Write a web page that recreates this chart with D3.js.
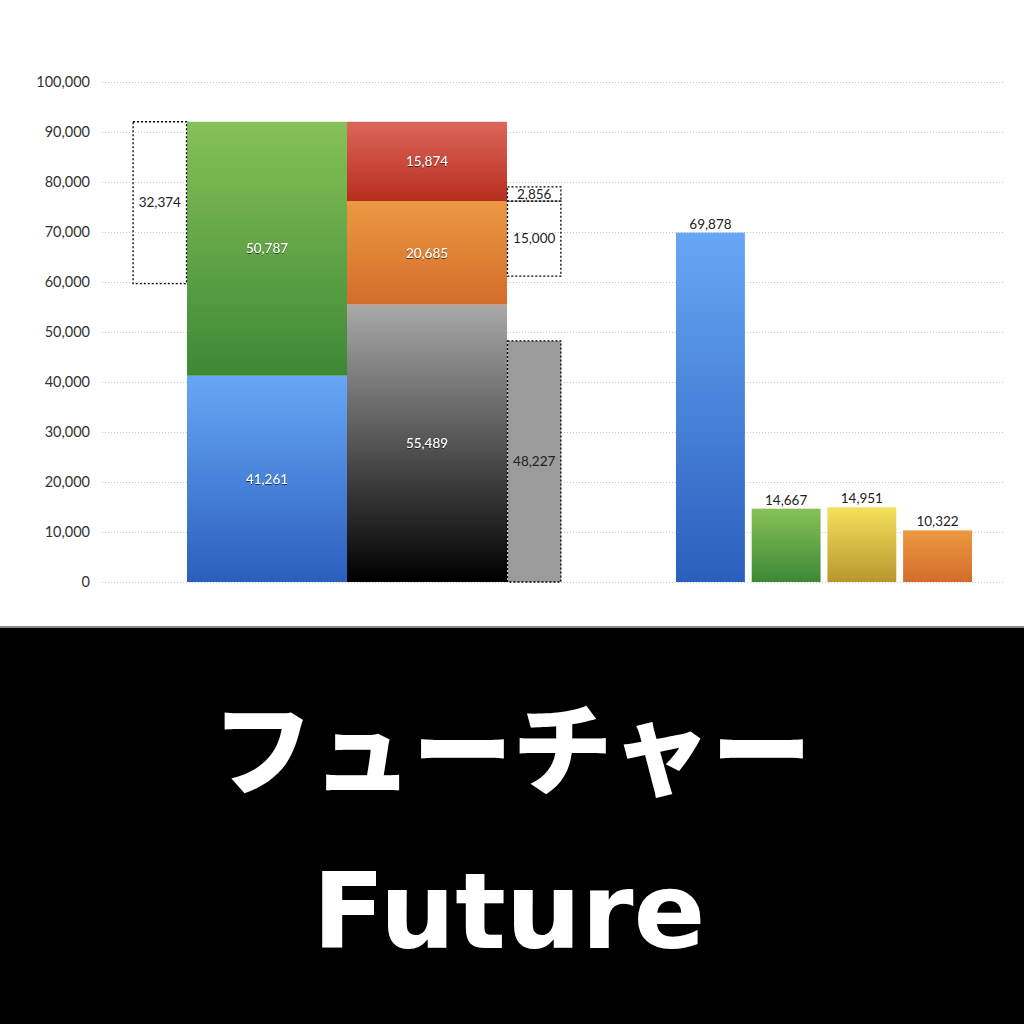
<!DOCTYPE html>
<html>
<head>
<meta charset="utf-8">
<script src="https://cdn.jsdelivr.net/npm/d3@7"></script>
<style>
  html, body { margin: 0; padding: 0; background: #fff; }
  svg { display: block; }
</style>
</head>
<body>
<script>
(function(){

  // left waterfall: two stacked columns with dotted helper boxes
  const stackA = ['blue', 'green']
  const stackAValues = [41261, 50787]
  const stackB = ['black', 'orange', 'red']
  const stackBValues = [55489, 20685, 15874]
  const leftGap = 32374
  const rightSmall = 2856
  const rightGap = 15000
  const greyBar = 48227

  // right group
  const rightCats = ['blue', 'green', 'yellow', 'orange']
  const rightValues = [69878, 14667, 14951, 10322]

  const yTicks = [0, 10000, 20000, 30000, 40000, 50000, 60000, 70000, 80000, 90000, 100000]

  const titleJa = 'フューチャー'
  const titleEn = 'Future'

  const grads = {
    blue:   ['#67a7f6', '#2b5fbd'],
    green:  ['#87c157', '#3d8836'],
    red:    ['#dd665b', '#b72e1d'],
    orange: ['#ec9941', '#d46c2b'],
    black:  ['#a9a9a9', '#000000'],
    yellow: ['#f6e15c', '#b8962e']
  }

  const W = 1024, H = 1024
  const svg = d3.select('body').append('svg').attr('width', W).attr('height', H)
  const defs = svg.append('defs')

  Object.keys(grads).forEach(function(k) {
    let g = defs.append('linearGradient').attr('id', 'g-' + k)
      .attr('x1', 0).attr('y1', 0).attr('x2', 0).attr('y2', 1)
    g.append('stop').attr('offset', '0%').attr('stop-color', grads[k][0])
    g.append('stop').attr('offset', '100%').attr('stop-color', grads[k][1])
  })

  const shadow = defs.append('filter').attr('id', 'txt-shadow')
    .attr('x', '-20%').attr('y', '-20%').attr('width', '140%').attr('height', '140%')
  shadow.append('feDropShadow').attr('dx', 0).attr('dy', 1).attr('stdDeviation', 0.6)
    .attr('flood-color', '#000').attr('flood-opacity', 0.6)

  const y = d3.scaleLinear().domain([0, 100000]).range([582, 82])
  const labelFont = 'Lato, "Noto Sans", sans-serif'

  // grid + ticks
  const grid = svg.append('g')
  grid.selectAll('line').data(yTicks).enter().append('line')
    .attr('x1', 102).attr('x2', 1005)
    .attr('y1', d => y(d) + 0.5).attr('y2', d => y(d) + 0.5)
    .attr('stroke', '#c8c8c8').attr('stroke-width', 1)
    .attr('stroke-dasharray', '1,2')

  const fmt = d3.format(',')
  svg.append('g').selectAll('text').data(yTicks).enter().append('text')
    .attr('x', 90).attr('y', d => y(d)).attr('dy', '0.35em')
    .attr('text-anchor', 'end')
    .attr('font-family', labelFont).attr('font-size', '14.5px')
    .attr('fill', '#333')
    .text(d => fmt(d))

  // left group x positions in column units
  const xL = d3.scaleLinear().domain([0, 1]).range([187, 347])
  const boxW = 0.34

  function stackRects(names, values) {
    let acc = 0
    return names.map(function(n, i) {
      let r = { name: n, value: values[i], y0: acc, y1: acc + values[i] }
      acc += values[i]
      return r
    })
  }
  const sA = stackRects(stackA, stackAValues)
  const sB = stackRects(stackB, stackBValues)
  const totalA = d3.sum(stackAValues)
  const topB = stackBValues[0] + stackBValues[1]

  function drawStack(data, col) {
    const g = svg.append('g')
    g.selectAll('rect').data(data).enter().append('rect')
      .attr('x', xL(col)).attr('width', xL(col + 1) - xL(col))
      .attr('y', d => y(d.y1)).attr('height', d => y(d.y0) - y(d.y1))
      .attr('fill', d => 'url(#g-' + d.name + ')')
    g.selectAll('text').data(data).enter().append('text')
      .attr('x', (xL(col) + xL(col + 1)) / 2)
      .attr('y', d => (y(d.y0) + y(d.y1)) / 2).attr('dy', '0.35em')
      .attr('text-anchor', 'middle')
      .attr('font-family', labelFont).attr('font-size', '13.5px')
      .attr('fill', '#fff').attr('filter', 'url(#txt-shadow)')
      .text(d => fmt(d.value))
  }
  drawStack(sA, 0)
  drawStack(sB, 1)

  // dotted boxes
  const boxes = [
    { x0: -boxW, x1: 0, lo: totalA - leftGap, hi: totalA, v: leftGap, fill: 'none' },
    { x0: 2, x1: 2 + boxW, lo: topB - rightGap, hi: topB, v: rightGap, fill: 'none' },
    { x0: 2, x1: 2 + boxW, lo: topB, hi: topB + rightSmall, v: rightSmall, fill: 'none' },
    { x0: 2, x1: 2 + boxW, lo: 0, hi: greyBar, v: greyBar, fill: '#9b9b9b' }
  ]
  const bg = svg.append('g')
  bg.selectAll('rect').data(boxes).enter().append('rect')
    .attr('x', d => xL(d.x0) + 0.5).attr('width', d => xL(d.x1) - xL(d.x0) - 1)
    .attr('y', d => y(d.hi)).attr('height', d => y(d.lo) - y(d.hi))
    .attr('fill', d => d.fill)
    .attr('stroke', '#000').attr('stroke-width', 1.3)
    .attr('stroke-dasharray', '2,2')
  bg.selectAll('text').data(boxes).enter().append('text')
    .attr('x', d => (xL(d.x0) + xL(d.x1)) / 2)
    .attr('y', d => (y(d.lo) + y(d.hi)) / 2).attr('dy', '0.35em')
    .attr('text-anchor', 'middle')
    .attr('font-family', labelFont).attr('font-size', '13.5px')
    .attr('fill', '#222')
    .text(d => fmt(d.v))

  // right group
  const xR = d3.scaleBand().domain(rightCats).range([676, 972]).paddingInner(0.09)
  const rg = svg.append('g')
  rg.selectAll('rect').data(rightValues).enter().append('rect')
    .attr('x', (d, i) => xR(rightCats[i])).attr('width', xR.bandwidth())
    .attr('y', d => y(d)).attr('height', d => y(0) - y(d))
    .attr('fill', (d, i) => 'url(#g-' + rightCats[i] + ')')
  rg.selectAll('text').data(rightValues).enter().append('text')
    .attr('x', (d, i) => xR(rightCats[i]) + xR.bandwidth() / 2)
    .attr('y', d => y(d) - 4)
    .attr('text-anchor', 'middle')
    .attr('font-family', labelFont).attr('font-size', '13.5px')
    .attr('fill', '#222')
    .text(d => fmt(d))

  // black title band
  svg.append('rect').attr('x', 0).attr('y', 626).attr('width', W).attr('height', 2)
    .attr('fill', '#8a8a8a')
  svg.append('rect').attr('x', 0).attr('y', 628).attr('width', W).attr('height', H - 628)
    .attr('fill', '#000')

  svg.append('text').attr('x', 512).attr('y', 787)
    .attr('text-anchor', 'middle')
    .attr('font-family', '"Noto Sans CJK JP", sans-serif').attr('font-weight', 900)
    .attr('font-size', '100px').attr('fill', '#fff')
    .text(titleJa)

  svg.append('text').attr('x', 509).attr('y', 948)
    .attr('text-anchor', 'middle')
    .attr('font-family', '"DejaVu Sans", sans-serif').attr('font-weight', 700)
    .attr('font-size', '106px').attr('fill', '#fff')
    .text(titleEn)

})()
</script>
</body>
</html>
